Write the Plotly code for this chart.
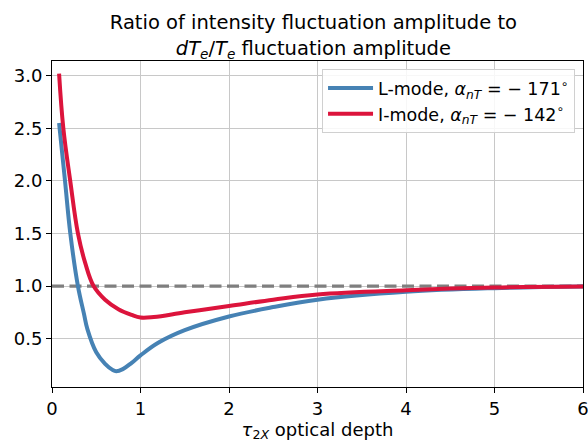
import plotly.graph_objects as go

# Data
tau_L = [0.08, 0.147, 0.207, 0.293, 0.36, 0.4, 0.5, 0.6, 0.68, 0.725, 0.8, 0.9, 1.0, 1.2, 1.5, 2.0, 2.5, 3.0, 4.0, 5.0, 6.0]
ratio_L = [2.55, 2.0, 1.5, 1.0, 0.74, 0.59, 0.37, 0.26, 0.205, 0.19, 0.21, 0.27, 0.34, 0.46, 0.58, 0.71, 0.80, 0.87, 0.945, 0.98, 0.995]

tau_I = [0.08, 0.128, 0.206, 0.293, 0.375, 0.47, 0.6, 0.75, 0.9, 1.0, 1.15, 1.5, 2.0, 2.5, 3.0, 4.0, 5.0, 6.0]
ratio_I = [3.02, 2.5, 2.0, 1.5, 1.22, 1.0, 0.87, 0.78, 0.725, 0.70, 0.705, 0.75, 0.81, 0.87, 0.92, 0.96, 0.985, 0.995]

ref_x = [0, 6]
ref_y = [1.0, 1.0]

x_ticks = [0, 1, 2, 3, 4, 5, 6]
y_ticks = [0.5, 1.0, 1.5, 2.0, 2.5, 3.0]
y_tick_text = ["0.5", "1.0", "1.5", "2.0", "2.5", "3.0"]

FONT = "DejaVu Sans"

fig = go.Figure()
fig.add_trace(go.Scatter(x=ref_x, y=ref_y, mode="lines",
                         line=dict(color="#7f7f7f", width=3.3, dash="12px,5.5px"),
                         showlegend=False, hoverinfo="skip"))
fig.add_trace(go.Scatter(x=tau_L, y=ratio_L, mode="lines",
                         line=dict(color="#4682B4", width=4, shape="spline", smoothing=1.1),
                         name="L-mode, <i>α</i><sub><i>nT</i></sub> = − 171<sup>∘</sup>"))
fig.add_trace(go.Scatter(x=tau_I, y=ratio_I, mode="lines",
                         line=dict(color="#DC143C", width=4, shape="spline", smoothing=1.1),
                         name="I-mode, <i>α</i><sub><i>nT</i></sub> = − 142<sup>∘</sup>"))

axis_common = dict(showline=True, linecolor="black", linewidth=1, mirror=True,
                   showgrid=True, gridcolor="#c8c8c8", gridwidth=1,
                   ticks="outside", ticklen=5, tickcolor="black",
                   tickfont=dict(family=FONT, size=18, color="black"),
                   zeroline=False, automargin=False, ticklabeloverflow="allow")

fig.update_xaxes(range=[0, 6], tickvals=x_ticks,
                 title=dict(text="<i>τ</i><sub>2<i>X</i></sub> optical depth",
                            font=dict(family=FONT, size=18, color="black"), standoff=3),
                 **axis_common)
fig.update_yaxes(range=[0.04, 3.14], tickvals=y_ticks, ticktext=y_tick_text, **axis_common)

fig.update_layout(
    width=588, height=444,
    margin=dict(l=52, r=5, t=61, b=57),
    paper_bgcolor="white", plot_bgcolor="white",
    font=dict(family=FONT, color="black"),
    title=dict(text="Ratio of intensity fluctuation amplitude to<br><i>dT</i><sub><i>e</i></sub>/<i>T</i><sub><i>e</i></sub> fluctuation amplitude",
               xref="container", x=0.533, xanchor="center",
               yref="container", y=0.934, yanchor="middle",
               font=dict(family=FONT, size=19.5, color="black")),
    legend=dict(x=0.985, y=0.975, xanchor="right", yanchor="top", itemwidth=45,
                bgcolor="rgba(255,255,255,0.85)", bordercolor="#d0d0d0", borderwidth=1,
                font=dict(family=FONT, size=17.5, color="black")),
)

fig.write_html("out.html", config={"displayModeBar": False},
               post_script="document.body.style.margin='0px';")
